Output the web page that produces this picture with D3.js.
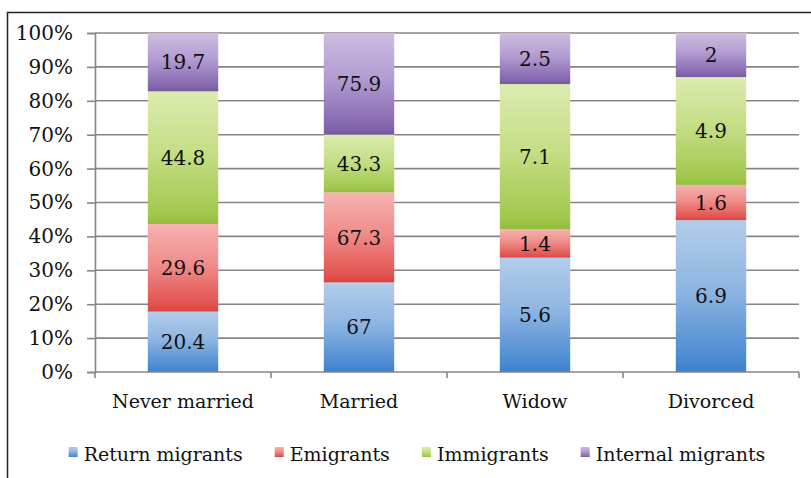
<!DOCTYPE html>
<html>
<head>
<meta charset="utf-8">
<script src="https://cdn.jsdelivr.net/npm/d3@7"></script>
<style>
  html, body { margin: 0; padding: 0; background: #fff; }
  svg { display: block; }
  text { font-family: "DejaVu Serif", serif; fill: #111; }
</style>
</head>
<body>
<svg id="chart" width="811" height="478"></svg>
<script>
// Marital status categories
const categories = ["Never married", "Married", "Widow", "Divorced"];
// Series names, stacked bottom to top
const seriesNames = ["Return migrants", "Emigrants", "Immigrants", "Internal migrants"];
// Values per series, one per category
const returnMigrants = [20.4, 67, 5.6, 6.9];
const emigrants = [29.6, 67.3, 1.4, 1.6];
const immigrants = [44.8, 43.3, 7.1, 4.9];
const internalMigrants = [19.7, 75.9, 2.5, 2];
const yTicks = [0, 0.1, 0.2, 0.3, 0.4, 0.5, 0.6, 0.7, 0.8, 0.9, 1];

const seriesValues = [returnMigrants, emigrants, immigrants, internalMigrants];
// Gradient colours (light top, saturated bottom) per series
const palette = [
  { top: "#b3cdea", mid: "#8fb6e2", bot: "#4a8ad2", edge: "#3b7fcc" },
  { top: "#f6b2b0", mid: "#ef8e8b", bot: "#e2534f", edge: "#d9423d" },
  { top: "#dcebb0", mid: "#c6de86", bot: "#a2c84e", edge: "#93bd3c" },
  { top: "#cdbde1", mid: "#b29cd2", bot: "#8466ae", edge: "#76589f" }
];

const svg = d3.select("#chart");
const W = 811, H = 478;
const plot = { left: 95, right: 799, top: 33, bottom: 372 };

// Outer frame
svg.append("rect").attr("x", 7.5).attr("y", 12.5).attr("width", W).attr("height", H)
  .attr("fill", "#fff").attr("stroke", "#222").attr("stroke-width", 1.5);

const defs = svg.append("defs");
palette.forEach((p, i) => {
  const g = defs.append("linearGradient").attr("id", "grad" + i)
    .attr("x1", 0).attr("y1", 0).attr("x2", 0).attr("y2", 1);
  g.append("stop").attr("offset", "0%").attr("stop-color", p.top);
  g.append("stop").attr("offset", "45%").attr("stop-color", p.mid);
  g.append("stop").attr("offset", "92%").attr("stop-color", p.bot);
  g.append("stop").attr("offset", "100%").attr("stop-color", p.edge);
});

// Build 100% stacked rows
const rows = categories.map((c, j) => {
  const r = { category: c };
  seriesNames.forEach((s, i) => { r[s] = seriesValues[i][j]; });
  return r;
});
const stacked = d3.stack().keys(seriesNames).offset(d3.stackOffsetExpand)(rows);

const x = d3.scaleBand().domain(categories).range([plot.left, plot.right])
  .paddingInner(0.6).paddingOuter(0.3);
const y = d3.scaleLinear().domain([0, 1]).range([plot.bottom, plot.top]);

// Horizontal gridlines
svg.append("g").selectAll("line").data(yTicks.filter(t => t > 0)).join("line")
  .attr("x1", plot.left).attr("x2", plot.right)
  .attr("y1", d => y(d)).attr("y2", d => y(d))
  .attr("stroke", "#8a8482").attr("stroke-width", 1.6);

// Y axis
const yAxis = svg.append("g").attr("transform", `translate(${plot.left},0)`)
  .call(d3.axisLeft(y).tickValues(yTicks).tickFormat(d3.format(".0%")).tickSize(8).tickPadding(14));
yAxis.select(".domain").attr("stroke", "#8a8482").attr("stroke-width", 1.6);
yAxis.selectAll(".tick line").attr("stroke", "#8a8482").attr("stroke-width", 1.6);
yAxis.selectAll("text").attr("font-size", 20).attr("font-family", "DejaVu Serif").attr("fill", "#111");

// Bars
const layers = svg.append("g").selectAll("g").data(stacked).join("g")
  .attr("fill", (d, i) => `url(#grad${i})`);
layers.selectAll("rect").data(d => d).join("rect")
  .attr("x", d => x(d.data.category))
  .attr("width", x.bandwidth())
  .attr("y", d => y(d[1]))
  .attr("height", d => y(d[0]) - y(d[1]));

// Value labels
stacked.forEach((layer, i) => {
  svg.append("g").selectAll("text").data(layer).join("text")
    .attr("x", d => x(d.data.category) + x.bandwidth() / 2)
    .attr("y", d => (y(d[0]) + y(d[1])) / 2)
    .attr("dy", "0.36em")
    .attr("text-anchor", "middle")
    .attr("font-size", 20)
    .text(d => d.data[layer.key]);
});

// X axis
const xAxis = svg.append("g").attr("transform", `translate(0,${plot.bottom})`);
xAxis.append("line").attr("x1", plot.left).attr("x2", plot.right)
  .attr("stroke", "#8a8482").attr("stroke-width", 1.6);
const step = x.step();
xAxis.selectAll("line.tk").data(d3.range(categories.length + 1)).join("line")
  .attr("class", "tk")
  .attr("x1", i => plot.left + i * step).attr("x2", i => plot.left + i * step)
  .attr("y1", 0).attr("y2", 6)
  .attr("stroke", "#8a8482").attr("stroke-width", 1.6);
xAxis.selectAll("text").data(categories).join("text")
  .attr("x", d => x(d) + x.bandwidth() / 2)
  .attr("y", 36)
  .attr("text-anchor", "middle")
  .attr("font-size", 19)
  .text(d => d);

// Legend
const legend = svg.append("g");
const items = legend.selectAll("g").data(seriesNames).join("g");
items.append("rect").attr("width", 9).attr("height", 10).attr("y", -14)
  .attr("fill", (d, i) => `url(#grad${i})`);
items.append("text").attr("x", 15).attr("y", 0).attr("font-size", 19).text(d => d);
const gap = 32;
let cursor = 0;
const offsets = [];
items.each(function () {
  offsets.push(cursor);
  const w = this.querySelector("text").getComputedTextLength();
  cursor += 15 + w + gap;
});
const total = cursor - gap;
const startX = 417 - total / 2;
items.attr("transform", (d, i) => `translate(${startX + offsets[i]},461)`);
</script>
</body>
</html>
